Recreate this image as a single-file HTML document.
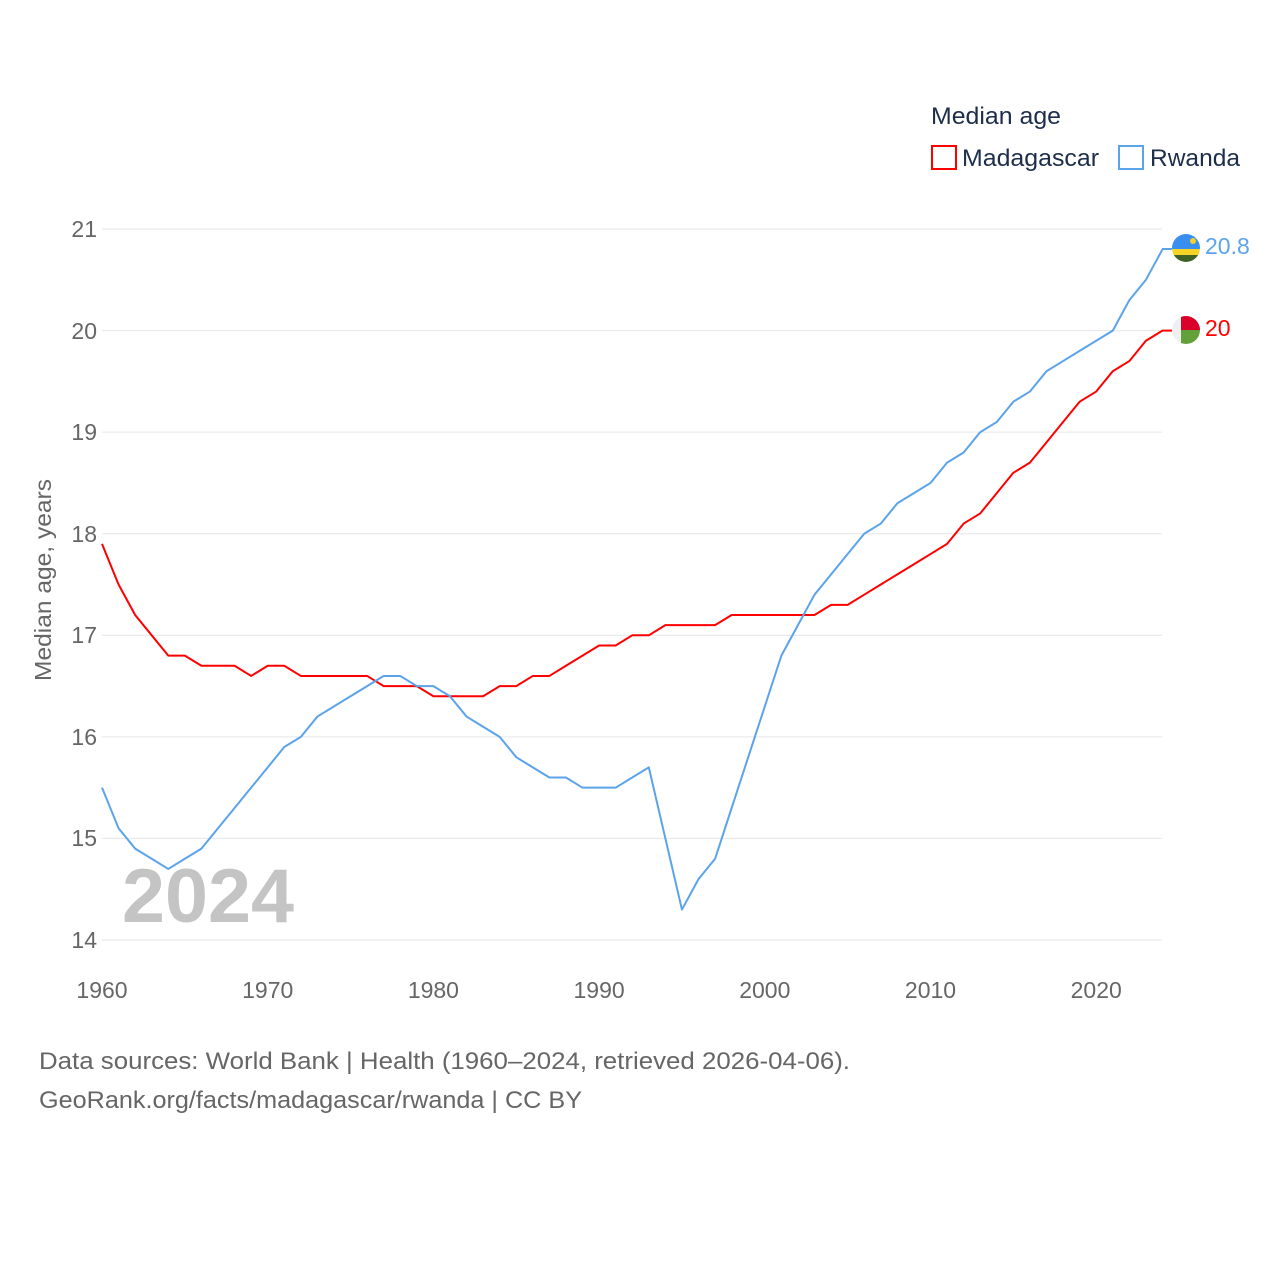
<!DOCTYPE html>
<html><head><meta charset="utf-8"><style>
body{margin:0;background:#fff;}
svg{display:block;font-family:"Liberation Sans",sans-serif;}
</style></head><body>
<svg width="1280" height="1280" viewBox="0 0 1280 1280" xmlns="http://www.w3.org/2000/svg">
<rect width="1280" height="1280" fill="#fff"/>
<g stroke="#e6e6e6" stroke-width="1">
<line x1="102" x2="1162" y1="229" y2="229"/>
<line x1="102" x2="1162" y1="330.6" y2="330.6"/>
<line x1="102" x2="1162" y1="432.1" y2="432.1"/>
<line x1="102" x2="1162" y1="533.7" y2="533.7"/>
<line x1="102" x2="1162" y1="635.3" y2="635.3"/>
<line x1="102" x2="1162" y1="736.9" y2="736.9"/>
<line x1="102" x2="1162" y1="838.4" y2="838.4"/>
<line x1="102" x2="1162" y1="940" y2="940"/>
</g>
<g fill="#666" font-size="23" text-anchor="end">
<text x="97" y="237">21</text><text x="97" y="339">20</text><text x="97" y="440">19</text>
<text x="97" y="542">18</text><text x="97" y="643">17</text><text x="97" y="745">16</text>
<text x="97" y="846">15</text><text x="97" y="948">14</text>
</g>
<g fill="#666" font-size="23" text-anchor="middle">
<text x="102" y="998">1960</text><text x="267.7" y="998">1970</text><text x="433.4" y="998">1980</text>
<text x="599.1" y="998">1990</text><text x="764.8" y="998">2000</text><text x="930.5" y="998">2010</text>
<text x="1096.2" y="998">2020</text>
</g>
<text transform="translate(51,580) rotate(-90)" fill="#666" font-size="23" text-anchor="middle" textLength="202" lengthAdjust="spacingAndGlyphs">Median age, years</text>
<text x="122" y="922" fill="#c4c4c4" font-size="76" font-weight="bold" textLength="172" lengthAdjust="spacingAndGlyphs">2024</text>
<g transform="matrix(16.57 0 0 -101.57 102 2362)" fill="none" stroke-width="2" stroke-linejoin="round">
<polyline vector-effect="non-scaling-stroke" stroke="#ff0000" points="0,17.9 1,17.5 2,17.2 3,17.0 4,16.8 5,16.8 6,16.7 7,16.7 8,16.7 9,16.6 10,16.7 11,16.7 12,16.6 13,16.6 14,16.6 15,16.6 16,16.6 17,16.5 18,16.5 19,16.5 20,16.4 21,16.4 22,16.4 23,16.4 24,16.5 25,16.5 26,16.6 27,16.6 28,16.7 29,16.8 30,16.9 31,16.9 32,17.0 33,17.0 34,17.1 35,17.1 36,17.1 37,17.1 38,17.2 39,17.2 40,17.2 41,17.2 42,17.2 43,17.2 44,17.3 45,17.3 46,17.4 47,17.5 48,17.6 49,17.7 50,17.8 51,17.9 52,18.1 53,18.2 54,18.4 55,18.6 56,18.7 57,18.9 58,19.1 59,19.3 60,19.4 61,19.6 62,19.7 63,19.9 64,20.0"/>
<polyline vector-effect="non-scaling-stroke" stroke="#5ba3ea" points="0,15.5 1,15.1 2,14.9 3,14.8 4,14.7 5,14.8 6,14.9 7,15.1 8,15.3 9,15.5 10,15.7 11,15.9 12,16.0 13,16.2 14,16.3 15,16.4 16,16.5 17,16.6 18,16.6 19,16.5 20,16.5 21,16.4 22,16.2 23,16.1 24,16.0 25,15.8 26,15.7 27,15.6 28,15.6 29,15.5 30,15.5 31,15.5 32,15.6 33,15.7 34,15.0 35,14.3 36,14.6 37,14.8 38,15.3 39,15.8 40,16.3 41,16.8 42,17.1 43,17.4 44,17.6 45,17.8 46,18.0 47,18.1 48,18.3 49,18.4 50,18.5 51,18.7 52,18.8 53,19.0 54,19.1 55,19.3 56,19.4 57,19.6 58,19.7 59,19.8 60,19.9 61,20.0 62,20.3 63,20.5 64,20.8"/>
</g>
<line x1="1162" x2="1172" y1="249" y2="249" stroke="#5ba3ea" stroke-width="2"/>
<line x1="1162" x2="1172" y1="330.6" y2="330.6" stroke="#ff0000" stroke-width="2"/>
<defs><clipPath id="c1"><circle cx="1186" cy="248" r="14"/></clipPath><clipPath id="c2"><circle cx="1186" cy="330" r="14"/></clipPath></defs>
<g clip-path="url(#c1)">
<rect x="1172" y="234" width="28" height="15" fill="#3a8ef0"/>
<rect x="1172" y="249" width="28" height="6" fill="#f5d327"/>
<rect x="1172" y="255" width="28" height="8" fill="#3f6327"/>
<circle cx="1193" cy="241" r="3" fill="#f5d327"/>
</g>
<g clip-path="url(#c2)">
<rect x="1172" y="316" width="28" height="28" fill="#f0f0f0"/>
<rect x="1181" y="316" width="19" height="14" fill="#d9002a"/>
<rect x="1181" y="330" width="19" height="14" fill="#62a039"/>
</g>
<text x="1205" y="254" fill="#5ba3ea" font-size="23">20.8</text>
<text x="1205" y="336" fill="#ff0000" font-size="23">20</text>
<text x="931" y="124" fill="#1d2e4a" font-size="24" textLength="130" lengthAdjust="spacingAndGlyphs">Median age</text>
<rect x="932" y="146" width="24" height="23" fill="none" stroke="#ff0000" stroke-width="2"/>
<text x="962" y="166" fill="#1d2e4a" font-size="24" textLength="137" lengthAdjust="spacingAndGlyphs">Madagascar</text>
<rect x="1119" y="146" width="24" height="23" fill="none" stroke="#5ba3ea" stroke-width="2"/>
<text x="1150" y="166" fill="#1d2e4a" font-size="24" textLength="90" lengthAdjust="spacingAndGlyphs">Rwanda</text>
<text x="39" y="1069" fill="#666" font-size="24" textLength="811" lengthAdjust="spacingAndGlyphs">Data sources: World Bank | Health (1960–2024, retrieved 2026-04-06).</text>
<text x="39" y="1108" fill="#666" font-size="24" textLength="543" lengthAdjust="spacingAndGlyphs">GeoRank.org/facts/madagascar/rwanda | CC BY</text>
</svg>
</body></html>
